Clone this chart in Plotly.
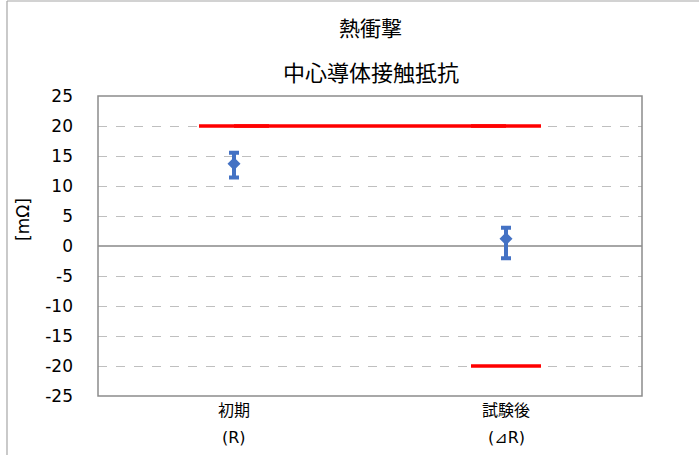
import plotly.graph_objects as go

# ---- data ----
categories = ["初期", "試験後"]
sub_labels = ["(R)", "(⊿R)"]
upper_limit = [20, 20]
lower_limit = [None, -20]
mean_vals = [13.7, 1.2]
err_plus = [1.85, 1.85]
err_minus = [2.3, 3.25]
y_ticks = list(range(-25, 30, 5))
y_ticktext = [str(v) for v in y_ticks]

FONT = "DejaVu Sans, Noto Sans CJK JP, sans-serif"
W, H = 699, 455
# target plot area in window pixels: x 98..642, y 96..396
ML, MT = 98, 96
PW, PH = 544, 300
MR = W - ML - PW
MB = H - MT - PH

def px_x(px):
    return (px - ML) / PW

def px_y(py):
    return (MT + PH - py) / PH

fig = go.Figure()

# upper limit line with dash markers
fig.add_trace(go.Scatter(
    x=categories, y=upper_limit, mode="lines+markers",
    line=dict(color="#FF0000", width=3.5),
    marker=dict(symbol="line-ew", size=50, line=dict(color="#FF0000", width=3.5)),
    hoverinfo="skip", showlegend=False,
))
# lower limit
fig.add_trace(go.Scatter(
    x=categories, y=lower_limit, mode="lines+markers",
    line=dict(color="#FF0000", width=3.5),
    marker=dict(symbol="line-ew", size=50, line=dict(color="#FF0000", width=3.5)),
    hoverinfo="skip", showlegend=False,
))
# measured values with error bars
fig.add_trace(go.Scatter(
    x=categories, y=mean_vals, mode="markers",
    marker=dict(symbol="diamond", size=10, color="#4472C4"),
    error_y=dict(type="data", symmetric=False, array=err_plus, arrayminus=err_minus,
                 color="#4472C4", thickness=4, width=5),
    showlegend=False,
))

annotations = [
    dict(text="熱衝撃", x=px_x(370), y=px_y(29), xref="paper", yref="paper",
         showarrow=False, font=dict(size=21, color="#000000", family=FONT),
         xanchor="center", yanchor="middle"),
    dict(text="中心導体接触抵抗", x=px_x(371), y=px_y(73), xref="paper", yref="paper",
         showarrow=False, font=dict(size=22, color="#000000", family=FONT),
         xanchor="center", yanchor="middle"),
    dict(text="[mΩ]", x=px_x(23), y=px_y(220), xref="paper", yref="paper",
         showarrow=False, textangle=-90, font=dict(size=17, color="#000000", family=FONT),
         xanchor="center", yanchor="middle"),
]
for c, s in zip(categories, sub_labels):
    annotations.append(dict(text=s, x=c, y=px_y(437), xref="x", yref="paper",
                            showarrow=False, font=dict(size=16, color="#000000", family=FONT),
                            xanchor="center", yanchor="middle"))

shapes = [
    # chart area border (left and top visible)
    dict(type="line", xref="paper", yref="paper", x0=px_x(7), x1=px_x(7), y0=px_y(1), y1=px_y(H + 20),
         line=dict(color="#A6A6A6", width=1.2)),
    dict(type="line", xref="paper", yref="paper", x0=px_x(7), x1=px_x(W + 20), y0=px_y(1), y1=px_y(1),
         line=dict(color="#A6A6A6", width=1.2)),
    # plot area border
    dict(type="rect", xref="paper", yref="paper", x0=0, x1=1, y0=0, y1=1,
         line=dict(color="#8C8C8C", width=1.5), layer="above"),
]

fig.update_layout(
    width=W, height=H,
    margin=dict(l=ML, r=MR, t=MT, b=MB, pad=0),
    paper_bgcolor="white", plot_bgcolor="white",
    font=dict(family=FONT, color="#000000"),
    annotations=annotations, shapes=shapes,
    xaxis=dict(type="category", range=[-0.5, 1.5], showgrid=False, zeroline=False,
               showline=False, ticks="", tickfont=dict(size=16, family=FONT),
               ticklabelstandoff=3, fixedrange=True),
    yaxis=dict(range=[-25, 25], tickvals=y_ticks, ticktext=y_ticktext, showgrid=True,
               gridcolor="#BFBFBF", griddash="dash", gridwidth=1,
               zeroline=True, zerolinecolor="#A6A6A6", zerolinewidth=1.5,
               showline=False, ticks="", tickfont=dict(size=17, family=FONT),
               ticklabelstandoff=24, fixedrange=True),
)

fig.write_html("out.html", config={"displayModeBar": False},
               post_script="document.body.style.margin='0';document.body.style.overflow='hidden';")
